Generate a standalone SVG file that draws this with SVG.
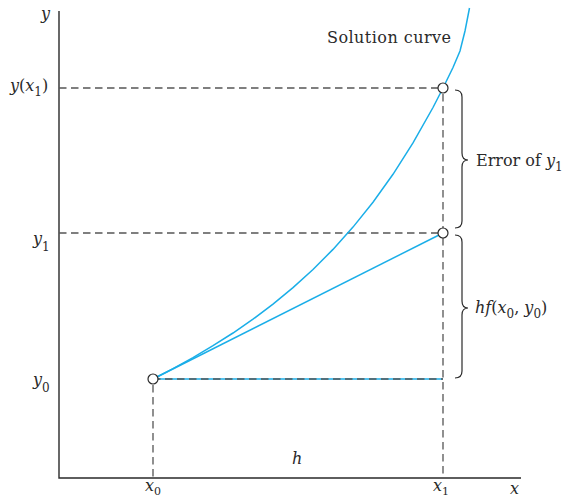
<svg xmlns="http://www.w3.org/2000/svg" width="565" height="500" viewBox="0 0 565 500">
<style>
text{font-family:"DejaVu Serif","Liberation Serif",serif;font-size:16px;fill:#2a2a2a}
.m{font-style:italic}
.s{font-size:12px;font-style:normal}
.t{font-size:11px;font-style:normal}
.axis{stroke:#2a2a2a;stroke-width:1.4;fill:none}
.dash{stroke:#555;stroke-width:1.3;stroke-dasharray:7.5 4.5;fill:none}
.blue{stroke:#1aaee8;stroke-width:1.5;fill:none}
.brace{stroke:#2a2a2a;stroke-width:1.2;fill:none}
.pt{fill:#fff;stroke:#2a2a2a;stroke-width:1.2}
</style>
<rect width="565" height="500" fill="#fff"/>
<g id="axes">
<path class="axis" d="M59,11 V478 H521"/>
</g>
<g id="connectors">
<path class="blue" d="M153,379 H443"/>
<path class="dash" d="M59,88 H438"/>
<path class="dash" d="M59,233 H438"/>
<path class="dash" d="M153,379 H443"/>
<path class="dash" d="M153,385 V478"/>
<path class="dash" d="M443,94 V478"/>
<path class="blue" d="M153,379 L443,233"/>
<path class="blue" d="M153,379 L173,368.6 L193,357.6 L213,345.7 L233,333 L253,319.2 L273,304.1 L293,287.6 L313,269.5 L333,249.4 L353,227.1 L373,202.2 L393,174.3 L413,142.9 L433,107.5 L443,88 L453,67.5 L460,51 L465,31 L469.5,8"/>
</g>
<g id="braces">
<path class="brace" d="M455,90 Q462,90 462,97 L462,153 Q462,160 468,160 Q462,160 462,167 L462,221 Q462,228 455,228"/>
<path class="brace" d="M455,235 Q462,235 462,242 L462,301 Q462,308 468,308 Q462,308 462,315 L462,371 Q462,378 455,378"/>
</g>
<g id="point-y0"><circle class="pt" cx="153" cy="379" r="5"/></g>
<g id="point-y1"><circle class="pt" cx="443" cy="233" r="5"/></g>
<g id="point-yx1"><circle class="pt" cx="443" cy="88" r="5"/></g>
<g id="labels">
<text x="327" y="43" textLength="124">Solution curve</text>
<text x="476" y="166">Error of <tspan class="m">y</tspan><tspan class="s" dy="5">1</tspan></text>
<text x="475" y="313"><tspan class="m">hf</tspan>(<tspan class="m">x</tspan><tspan class="s" dy="5">0</tspan><tspan dy="-5">, </tspan><tspan class="m">y</tspan><tspan class="s" dy="5">0</tspan><tspan dy="-5">)</tspan></text>
<text class="m" x="41" y="19">y</text>
<text x="10" y="91"><tspan class="m">y</tspan>(<tspan class="m">x</tspan><tspan class="s" dy="5">1</tspan><tspan dy="-5">)</tspan></text>
<text x="33" y="244"><tspan class="m">y</tspan><tspan class="s" dy="7">1</tspan></text>
<text x="33" y="385"><tspan class="m">y</tspan><tspan class="s" dy="7">0</tspan></text>
<text class="m" x="292" y="464">h</text>
<text x="145" y="491"><tspan class="m">x</tspan><tspan class="t" dy="4">0</tspan></text>
<text x="433" y="491"><tspan class="m">x</tspan><tspan class="t" dy="4">1</tspan></text>
<text class="m" x="510" y="494">x</text>
</g>
</svg>
